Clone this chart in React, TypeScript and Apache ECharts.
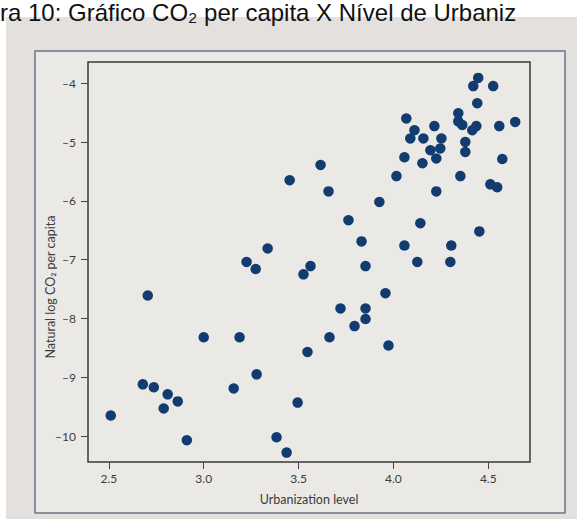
import React, { useEffect, useRef } from "react";
import * as echarts from "echarts";

const urbanization = [
  2.51, 2.705, 2.679, 2.737, 2.81, 2.863, 2.789, 2.911, 3.0, 3.189,
  3.158, 3.226, 3.274, 3.337, 3.279, 3.384, 3.437, 3.453, 3.495, 3.526,
  3.563, 3.547, 3.616, 3.658, 3.663, 3.721, 3.763, 3.795, 3.832, 3.853,
  3.853, 3.853, 3.926, 3.958, 3.974, 4.016, 4.058, 4.058, 4.068, 4.089,
  4.111, 4.126, 4.142, 4.153, 4.158, 4.195, 4.216, 4.226, 4.226, 4.247,
  4.253, 4.3, 4.305, 4.342, 4.342, 4.363, 4.353, 4.379, 4.379, 4.416,
  4.437, 4.421, 4.447, 4.442, 4.453, 4.511, 4.547, 4.526, 4.558, 4.574,
  4.642,
];
const logCO2 = [
  -9.65, -7.61, -9.12, -9.17, -9.29, -9.41, -9.53, -10.07, -8.32, -8.32,
  -9.19, -7.04, -7.16, -6.81, -8.95, -10.02, -10.28, -5.65, -9.43, -7.25,
  -7.11, -8.57, -5.39, -5.84, -8.32, -7.83, -6.33, -8.13, -6.69, -7.11,
  -7.83, -8.01, -6.02, -7.57, -8.46, -5.58, -5.26, -6.76, -4.6, -4.94,
  -4.8, -7.04, -6.38, -5.36, -4.94, -5.14, -4.73, -5.28, -5.84, -5.11,
  -4.94, -7.04, -6.76, -4.51, -4.65, -4.71, -5.58, -5.0, -5.17, -4.8,
  -4.73, -4.05, -3.91, -4.34, -6.52, -5.72, -5.77, -4.05, -4.73, -5.29,
  -4.66,
];
const xTicks = [2.5, 3.0, 3.5, 4.0, 4.5];
const yTicks = [-4, -5, -6, -7, -8, -9, -10];
const titleText = "ra 10: Gráfico CO₂ per capita X Nível de Urbaniz";
const xName = "Urbanization level";
const yName = "Natural log CO₂ per capita";

export default function App() {
  const ref = useRef<HTMLDivElement>(null);
  useEffect(() => {
    document.body.style.margin = "0";
    const chart = echarts.init(ref.current!, null, { renderer: "svg" });
    const labelFont = "Lato";
    chart.setOption({
      animation: false,
      backgroundColor: "#ffffff",
      graphic: [
        {
          type: "rect",
          shape: { x: 6, y: 17, width: 571, height: 502 },
          style: { fill: "#e3e0dd" },
          z: -10,
        },
        {
          type: "rect",
          shape: { x: 35, y: 51, width: 530, height: 462 },
          style: { fill: "#ebe9e6", stroke: "#6c7688", lineWidth: 1.5 },
          z: -9,
        },
        {
          type: "text",
          x: 0,
          y: 0,
          z: 10,
          style: {
            text: titleText,
            font: "24px 'Liberation Sans', Arial, sans-serif",
            fill: "#111111",
            verticalAlign: "top",
          },
        },
      ],
      grid: {
        left: 88,
        right: 47,
        top: 62,
        bottom: 57,
        show: true,
        borderColor: "#3a3a3a",
        borderWidth: 1.5,
        backgroundColor: "transparent",
      },
      xAxis: {
        type: "value",
        min: 2.39,
        max: 4.72,
        name: xName,
        nameLocation: "middle",
        nameGap: 31,
        nameMoveOverlap: false,
        nameTextStyle: { fontFamily: labelFont, fontSize: 12.5, color: "#3c3c3c" },
        axisLine: { show: false },
        splitLine: { show: false },
        axisTick: {
          show: true,
          length: 7,
          customValues: xTicks,
          lineStyle: { color: "#444" },
        },
        axisLabel: {
          customValues: xTicks,
          margin: 10,
          fontFamily: labelFont,
          fontSize: 12,
          color: "#3c3c3c",
          formatter: (v: number) => v.toFixed(1),
        },
      },
      yAxis: {
        type: "value",
        min: -10.44,
        max: -3.64,
        name: yName,
        nameLocation: "middle",
        nameGap: 31,
        nameMoveOverlap: false,
        nameTextStyle: {
          fontFamily: labelFont,
          fontSize: 12.5,
          color: "#3c3c3c",
          padding: [0, 50, 0, 0],
        },
        axisLine: { show: false },
        splitLine: { show: false },
        axisTick: {
          show: true,
          length: 7,
          customValues: yTicks,
          lineStyle: { color: "#444" },
        },
        axisLabel: {
          customValues: yTicks,
          margin: 12,
          fontFamily: labelFont,
          fontSize: 12,
          color: "#3c3c3c",
          formatter: (v: number) => "–" + Math.abs(v),
        },
      },
      series: [
        {
          type: "scatter",
          data: urbanization.map((x, i) => [x, logCO2[i]]),
          symbolSize: 10.5,
          itemStyle: { color: "#123c70", opacity: 1 },
        },
      ],
    });
    return () => chart.dispose();
  }, []);
  return (
    <div
      ref={ref}
      style={{ position: "absolute", left: 0, top: 0, width: 577, height: 519 }}
    />
  );
}
